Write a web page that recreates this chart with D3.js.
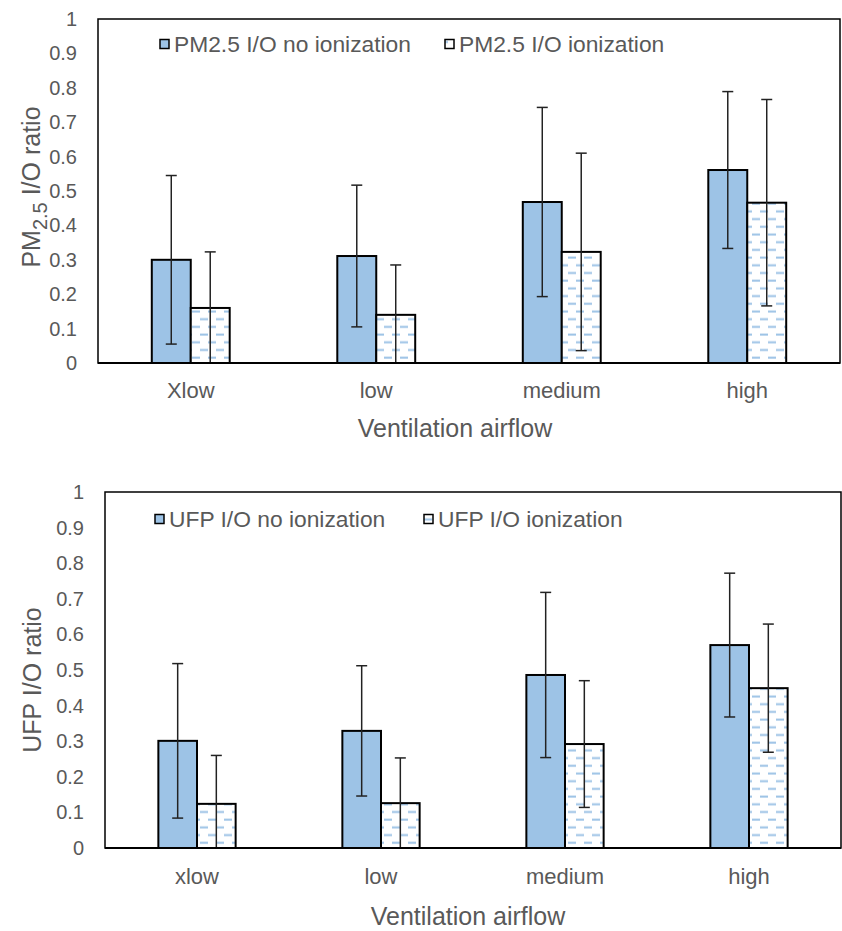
<!DOCTYPE html>
<html><head><meta charset="utf-8">
<script src="https://cdn.jsdelivr.net/npm/d3@7"></script>
<style>
body{margin:0;background:#fff}
text{font-family:"Liberation Sans",Arial,sans-serif;fill:#595959}
</style>
</head><body>
<svg id="c" width="842" height="931"></svg>
<script>
// ---- data ----
const categoriesTop = ["Xlow", "low", "medium", "high"];
const categoriesBottom = ["xlow", "low", "medium", "high"];
const seriesTop = ["PM2.5 I/O no ionization", "PM2.5 I/O ionization"];
const seriesBottom = ["UFP I/O no ionization", "UFP I/O ionization"];
const pmNoIon = [0.300, 0.311, 0.468, 0.561];
const pmNoIonErr = [0.245, 0.206, 0.275, 0.228];
const pmIon = [0.160, 0.140, 0.323, 0.466];
const pmIonErr = [0.163, 0.145, 0.287, 0.300];
const ufpNoIon = [0.301, 0.329, 0.486, 0.570];
const ufpNoIonErr = [0.217, 0.183, 0.232, 0.202];
const ufpIon = [0.124, 0.126, 0.292, 0.449];
const ufpIonErr = [0.136, 0.127, 0.178, 0.180];
const yTicks = [0, 0.1, 0.2, 0.3, 0.4, 0.5, 0.6, 0.7, 0.8, 0.9, 1];
const yTickLabels = ["0", "0.1", "0.2", "0.3", "0.4", "0.5", "0.6", "0.7", "0.8", "0.9", "1"];
const xTitle = "Ventilation airflow";

const svg = d3.select("#c");
const BLUE = "#9DC3E6";

// pattern: dashed horizontal
const defs = svg.append("defs");
const pat = defs.append("pattern").attr("id", "dash").attr("patternUnits", "userSpaceOnUse")
  .attr("width", 16).attr("height", 15.4);
pat.append("rect").attr("width", 16).attr("height", 15.4).attr("fill", "#fff");
pat.append("rect").attr("x", 0).attr("y", 2.5).attr("width", 8).attr("height", 2).attr("fill", BLUE);
pat.append("rect").attr("x", 8).attr("y", 10.2).attr("width", 8).attr("height", 2).attr("fill", BLUE);

function panel(cfg, idx) {
  const {left, top, right, bottom} = cfg;
  const x0 = d3.scaleBand().domain(cfg.categories).range([left, right]);
  const barW = x0.bandwidth() * 0.21;
  const x1 = d3.scaleBand().domain([0, 1]).range([0, 2 * barW]);
  const y = d3.scaleLinear().domain([0, 1]).range([bottom, top]);
  const g = svg.append("g");

  const clipId = "clip" + idx;
  defs.append("clipPath").attr("id", clipId).append("rect")
    .attr("x", left).attr("y", top).attr("width", right - left).attr("height", bottom - top);

  // y tick labels
  g.append("g").selectAll("text").data(yTicks).join("text")
    .attr("x", left - 21).attr("y", d => y(d)).attr("dy", "0.35em")
    .attr("text-anchor", "end").attr("font-size", 20).text((d, i) => yTickLabels[i]);

  // bars
  const sets = [
    {vals: cfg.v0, errs: cfg.e0, fill: BLUE},
    {vals: cfg.v1, errs: cfg.e1, fill: "url(#dash)"}
  ];
  sets.forEach((s, si) => {
    g.append("g").selectAll("rect").data(cfg.categories).join("rect")
      .attr("x", (c) => x0(c) + x0.bandwidth() / 2 - barW + x1(si))
      .attr("y", (c, i) => y(s.vals[i]))
      .attr("width", x1.bandwidth())
      .attr("height", (c, i) => y(0) - y(s.vals[i]))
      .attr("fill", s.fill).attr("stroke", "#000").attr("stroke-width", 2);
  });
  // error bars
  sets.forEach((s, si) => {
    const eg = g.append("g").attr("clip-path", `url(#${clipId})`);
    cfg.categories.forEach((c, i) => {
      const cx = x0(c) + x0.bandwidth() / 2 - barW + x1(si) + x1.bandwidth() / 2;
      const hi = y(s.vals[i] + s.errs[i]), lo = y(s.vals[i] - s.errs[i]);
      eg.append("line").attr("x1", cx).attr("x2", cx).attr("y1", hi).attr("y2", lo)
        .attr("stroke", "#222").attr("stroke-width", 1.5);
      [hi, lo].forEach(yy => eg.append("line").attr("x1", cx - 5.5).attr("x2", cx + 5.5)
        .attr("y1", yy).attr("y2", yy).attr("stroke", "#222").attr("stroke-width", 1.5));
    });
  });

  // frame
  g.append("rect").attr("x", left).attr("y", top).attr("width", right - left).attr("height", bottom - top)
    .attr("fill", "none").attr("stroke", "#000").attr("stroke-width", 1.5);
  g.append("line").attr("x1", left).attr("x2", right).attr("y1", y(0)).attr("y2", y(0))
    .attr("stroke", "#000").attr("stroke-width", 2);

  // category labels
  g.append("g").selectAll("text").data(cfg.categories).join("text")
    .attr("x", c => x0(c) + x0.bandwidth() / 2).attr("y", cfg.catY)
    .attr("text-anchor", "middle").attr("font-size", 22).text(c => c);

  // x title
  g.append("text").attr("x", cfg.xTitleX).attr("y", cfg.xTitleY).attr("text-anchor", "middle")
    .attr("font-size", 25).text(xTitle);

  // y title
  const yt = g.append("text").attr("transform", `translate(${cfg.yTitleX},${cfg.yTitleY}) rotate(-90)`)
    .attr("text-anchor", "middle").attr("font-size", 25);
  cfg.yTitle(yt);

  // legend
  cfg.series.forEach((name, si) => {
    const lx = cfg.legendX[si];
    g.append("rect").attr("x", lx).attr("y", cfg.legendY - 4.5).attr("width", 9).attr("height", 9)
      .attr("fill", si === 0 ? BLUE : "url(#dash)").attr("stroke", "#000").attr("stroke-width", 1.5);
    g.append("text").attr("x", lx + 14).attr("y", cfg.legendY).attr("dy", "0.35em")
      .attr("font-size", 22.8).text(name);
  });
}

panel({
  left: 98, top: 19, right: 840, bottom: 363,
  categories: categoriesTop, series: seriesTop,
  v0: pmNoIon, e0: pmNoIonErr, v1: pmIon, e1: pmIonErr,
  catY: 398, xTitleX: 455, xTitleY: 437,
  yTitleX: 40, yTitleY: 187,
  yTitle: t => {
    t.append("tspan").text("PM");
    t.append("tspan").attr("font-size", 20).attr("dy", 7).text("2.5");
    t.append("tspan").attr("dy", -7).text(" I/O ratio");
  },
  legendX: [160, 445], legendY: 44
}, 0);

panel({
  left: 105, top: 492, right: 841, bottom: 848,
  categories: categoriesBottom, series: seriesBottom,
  v0: ufpNoIon, e0: ufpNoIonErr, v1: ufpIon, e1: ufpIonErr,
  catY: 884, xTitleX: 468, xTitleY: 925,
  yTitleX: 41, yTitleY: 680,
  yTitle: t => t.text("UFP I/O ratio"),
  legendX: [155, 424], legendY: 519
}, 1);
</script>
</body></html>
